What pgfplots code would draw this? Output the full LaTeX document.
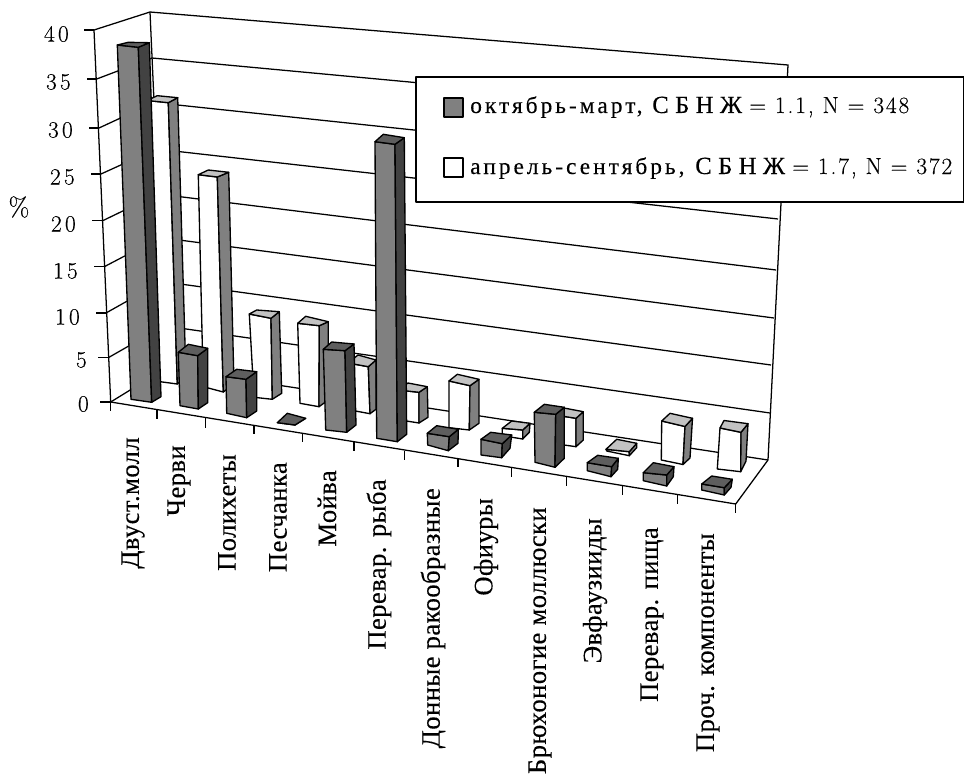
\documentclass[border=0pt]{standalone}
\usepackage{pgfplots}
\usepackage{fontspec}
\pgfplotsset{compat=1.18}
\newfontfamily\ru{Liberation Serif}[LetterSpace=1.5,FakeBold=0.25]
\newfontfamily\rulegend{Liberation Serif}[LetterSpace=13,FakeBold=0.25]
\newfontfamily\rucaps{Liberation Serif}[LetterSpace=26,FakeBold=0.25]
\newfontfamily\lmtext{Latin Modern Roman}[LetterSpace=14,FakeBold=0.25]
\newfontfamily\lmlegend{Latin Modern Roman}[LetterSpace=8,FakeBold=0.25]
\definecolor{gmid}{gray}{0.50}
\definecolor{gdark}{gray}{0.26}
\definecolor{gtopd}{gray}{0.37}
\definecolor{gtopw}{gray}{0.76}
\pgfplotsset{
  edge/.style={black,line width=1.0pt,line join=round,forget plot},
  rule/.style={black,line width=0.95pt,forget plot},
}
% One prism: style prefix, then top FL BL BR FR, then bottom FL FR BR
\newcommand{\prism}[8]{%
  \addplot[edge,fill=#1front] coordinates {#2 #5 #7 #6} --cycle;
  \addplot[edge,fill=#1side] coordinates {#5 #4 #8 #7} --cycle;
  \addplot[edge,fill=#1top] coordinates {#2 #3 #4 #5} --cycle;
}
\colorlet{dfront}{gmid}\colorlet{dside}{gdark}\colorlet{dtop}{gtopd}
\colorlet{wfront}{white}\colorlet{wside}{gmid}\colorlet{wtop}{gtopw}
\newcommand{\seg}[2]{\addplot[rule] coordinates {#1 #2};}
\newcommand{\cat}[3]{\node[rotate=90,anchor=east,inner sep=0pt,font=\fontsize{20}{22}\ru] at (axis cs:#1,#2) {#3};}
\newcommand{\val}[3]{\node[anchor=east,inner sep=0pt,font=\fontsize{17.5}{20}\lmtext] at (axis cs:#1,#2) {#3};}
\newcommand{\legendrow}[5]{%
  \node[anchor=base west,inner sep=0pt,font=\fontsize{17.5}{20}\rulegend] at (axis cs:470,#1) {#2};
  \node[anchor=base west,inner sep=0pt,font=\fontsize{18.5}{20}\rucaps] at (axis cs:#3,#1) {СБНЖ};
  \node[anchor=base west,inner sep=0pt,font=\fontsize{17.5}{20}\lmlegend] at (axis cs:#4,#1) {#5};
}
\begin{document}
\begin{tikzpicture}
\begin{axis}[
  scale only axis,width=723pt,height=580.5pt,
  xmin=0,xmax=964,ymin=0,ymax=774,y dir=reverse,
  hide axis,clip mode=individual]
% wall and floor outline
\addplot[rule] coordinates {(94,30)(150,12)(788,65)(768,460)(735.7,504)(110.7,402)(94,30)};
\addplot[rule] coordinates {(150,12)(166,368)(768,460)};
\addplot[rule] coordinates {(110.7,402)(166,368)};
% grid lines, side wall and back wall
\addplot[rule] coordinates {(96.7,79)(152,58)(785,117)};
\addplot[rule] coordinates {(99,128)(154,102.5)(782.5,169)};
\addplot[rule] coordinates {(101,174)(156,149)(778,219)};
\addplot[rule] coordinates {(102.7,220.7)(158,194)(776,270)};
\addplot[rule] coordinates {(104.3,266.7)(160,237.5)(774,318)};
\addplot[rule] coordinates {(106,313)(162,281.5)(771,365)};
\addplot[rule] coordinates {(108.3,357.7)(164,325.8)(770,413)};
% value ticks
\seg{(84,30)}{(94,30)}\seg{(87,79)}{(96.7,79)}\seg{(89,128)}{(99,128)}
\seg{(91,174)}{(101,174)}\seg{(92,220.7)}{(102.7,220.7)}\seg{(94,266.7)}{(104.3,266.7)}
\seg{(96,313)}{(106,313)}\seg{(98,357.7)}{(108.3,357.7)}\seg{(100,402)}{(110.7,402)}
% category ticks
\seg{(110.7,402)}{(110.7,411)}\seg{(157,410)}{(157,418.5)}\seg{(205.3,418)}{(205.3,427.7)}
\seg{(254,426)}{(254,434.3)}\seg{(302.7,433)}{(302.7,441.7)}\seg{(354,442)}{(354,451)}
\seg{(404.7,451)}{(404.7,460)}\seg{(458,459)}{(458,467.3)}\seg{(511.3,467.3)}{(511.3,476.7)}
\seg{(566.7,476.7)}{(566.7,485.7)}\seg{(622.3,485.7)}{(622.3,495)}\seg{(677.7,495)}{(677.7,504)}
\seg{(735.7,504)}{(735.7,513.3)}
% rear row: April to September
\prism{w}{(147,100.5)}{(157.3,95.7)}{(177.7,97.7)}{(168.3,102.7)}{(155,381)}{(177.3,384)}{(186,377)}
\prism{w}{(198.3,174.7)}{(208.3,170)}{(228.7,172.3)}{(217.3,177)}{(203.3,386.7)}{(223.3,392)}{(234,384)}
\prism{w}{(249.3,314)}{(256.7,310)}{(279.3,311.7)}{(271,318.3)}{(254,397.3)}{(272.3,399.3)}{(281.7,393.3)}
\prism{w}{(297.7,323.3)}{(305.7,316.3)}{(328.3,321.7)}{(319.3,325.7)}{(300,403.3)}{(319,406.7)}{(328.3,400)}
\prism{w}{(348,363)}{(358,355)}{(376,360)}{(368.3,366.7)}{(350,410)}{(370,413.7)}{(376,409.3)}
\prism{w}{(398,390)}{(408,383)}{(427.3,386.7)}{(419,392.3)}{(400,420)}{(419,423)}{(428,417.3)}
\prism{w}{(449,381)}{(457.3,374.3)}{(479,379.3)}{(470,385.7)}{(449,427.7)}{(469.3,430)}{(479,423.3)}
\prism{w}{(502.3,428.3)}{(511.7,421)}{(530,423.3)}{(522.7,430)}{(502.3,435.7)}{(522.7,439)}{(529.3,432.3)}
\prism{w}{(555,415)}{(564,408)}{(583.3,411.7)}{(576,418.3)}{(557,444)}{(576,446.7)}{(583.3,440)}
\prism{w}{(606,449.3)}{(616.7,439.3)}{(636.7,443.3)}{(629.3,451.7)}{(606.7,451)}{(629.3,455.7)}{(636.7,447.7)}
\prism{w}{(661.7,421)}{(670,413.3)}{(692.5,418.3)}{(685,426.5)}{(661.3,460)}{(683,464.5)}{(690,458)}
\prism{w}{(720,428)}{(724,420.5)}{(748,423.7)}{(741,432.3)}{(717.3,469)}{(740.7,471.7)}{(746,461)}
% front row: October to March
\prism{d}{(117.3,45)}{(128.3,42.3)}{(149.3,42.7)}{(138.3,47.3)}{(131,399.3)}{(151.7,402.3)}{(161,396.7)}
\prism{d}{(178.3,352.3)}{(188.3,344.3)}{(207.7,348.3)}{(197.7,355.7)}{(180,405.7)}{(198.3,409)}{(207.7,402.7)}
\prism{d}{(226,376.7)}{(236.7,369.3)}{(256.7,371.7)}{(246,379.3)}{(226.7,413.3)}{(246.7,417.7)}{(256.7,411)}
\prism{d}{(277.3,422.7)}{(287.3,413.3)}{(305.7,418.3)}{(295,425)}{(277.3,422.7)}{(295,425)}{(305.7,418.3)}
\prism{d}{(323.3,349.3)}{(331.7,342)}{(354,344)}{(345,350.7)}{(325.7,430)}{(346.7,432.3)}{(356,425)}
\prism{d}{(375,141.7)}{(383.3,134.3)}{(404.3,137.7)}{(395,144.3)}{(376.7,438.3)}{(397.3,441.7)}{(406.7,434.3)}
\prism{d}{(427.3,433.3)}{(436.7,425.7)}{(458.3,429.3)}{(449.3,436.7)}{(427.7,445)}{(448.3,450.7)}{(458,443.3)}
\prism{d}{(481,439.3)}{(490.7,432.3)}{(511.7,435)}{(502.3,443.7)}{(481,455)}{(501.7,457.7)}{(510,448.3)}
\prism{d}{(534.3,412.3)}{(544.3,404.3)}{(564.3,407.3)}{(555.7,414.3)}{(535,462.3)}{(555,467.3)}{(564.3,458.3)}
\prism{d}{(587.3,462.7)}{(597.7,455.3)}{(618.3,458.3)}{(611.7,466.7)}{(587.3,470.7)}{(611,476.7)}{(617.7,469.3)}
\prism{d}{(643.3,472.7)}{(653.3,462.7)}{(674,466.7)}{(666.7,475)}{(643.3,480.7)}{(666.7,486)}{(673.3,476.7)}
\prism{d}{(701.7,484)}{(711.7,476)}{(732.3,479.3)}{(724.3,487.7)}{(701.7,490)}{(724.3,495)}{(731,487.3)}
% legend box
\addplot[edge,fill=white] coordinates {(416,77)(964,77)(964,202)(416,202)} --cycle;
\addplot[edge,fill=gmid] coordinates {(444,98)(463,98)(463,117)(444,117)} --cycle;
\addplot[edge,fill=white] coordinates {(444,158)(463,158)(463,177)(444,177)} --cycle;
\legendrow{113}{октябрь-март,}{652}{749}{= 1.1, N = 348}
\legendrow{174}{апрель-сентябрь,}{695}{792}{= 1.7, N = 372}
% value axis labels
\val{69}{34}{40}\val{71}{82}{35}\val{73}{130}{30}\val{75}{177}{25}\val{76}{224}{20}
\val{78}{271}{15}\val{80}{317}{10}\val{87}{360}{5}\val{89}{404}{0}
\node[inner sep=0pt,font=\fontsize{20}{22}\lmtext] at (axis cs:19,207) {\%};
% category labels
\cat{133}{437}{Двуст.молл}
\cat{179}{445}{Черви}
\cat{227}{454}{Полихеты}
\cat{278}{462}{Песчанка}
\cat{327}{470}{Мойва}
\cat{379}{479}{Перевар. рыба}
\cat{433}{488}{Донные ракообразные}
\cat{486}{498}{Офиуры}
\cat{540}{507}{Брюхоногие моллюски}
\cat{595}{518}{Эвфаузииды}
\cat{652}{527}{Перевар. пища}
\cat{708}{533}{Проч. компоненты}
\end{axis}
\pgfresetboundingbox
\path[use as bounding box] (0,0) rectangle (723pt,580.5pt);
\end{tikzpicture}
\end{document}
